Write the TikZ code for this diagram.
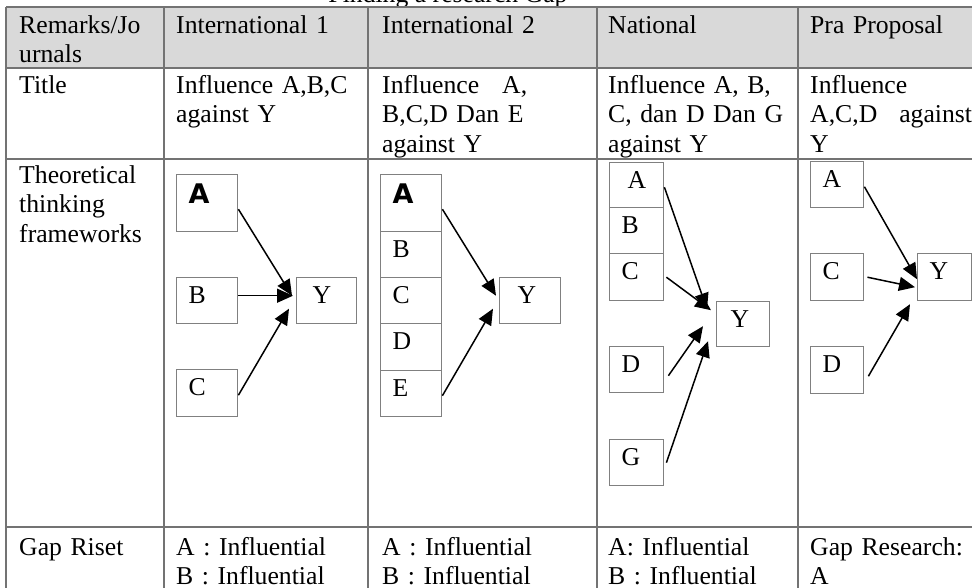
\documentclass[tikz,border=0pt]{standalone}
\usepackage{fontspec}
\setmainfont{Liberation Serif}
\setsansfont{Liberation Sans}
\newfontfamily\heavyfont{DejaVu Sans}
\usepackage{xcolor}
\usetikzlibrary{arrows.meta}
\definecolor{rulegray}{rgb}{0.45,0.45,0.45}
\definecolor{headgray}{rgb}{0.85,0.85,0.85}
\definecolor{boxgray}{rgb}{0.50,0.50,0.50}
\newcommand{\boldA}{\raisebox{-3pt}{\heavyfont\bfseries\fontsize{27}{30}\selectfont A}}

\begin{document}
\begin{tikzpicture}[x=1pt, y=-1pt, font=\fontsize{25.7}{29.5}\selectfont,
  cell/.style={anchor=base west, inner sep=0pt, align=left, text width=185pt},
  var/.style={draw=boxgray, line width=1.4pt, anchor=north west, inner xsep=12pt, inner ysep=0pt,
    text height=26pt, text depth=20pt, text width=30pt, align=left},
  wide/.style={text width=37pt},
  tall/.style={text depth=31pt},
  link/.style={line width=1.5pt, -{Triangle[length=16pt,width=14pt]}}]
\useasboundingbox (0,0) rectangle (972,587);
\clip (0,0) rectangle (972,587);
%		\draw[help lines] (0,0) grid (972,587);
\node[anchor=base, inner sep=0pt] (title) at (448,2) {Finding a research Gap};
\fill[headgray] (6,7) rectangle (990,68);
\foreach \y in {7,68,159,527} \draw[rulegray, line width=1.2pt] (6,\y) -- (990,\y);
\foreach \x in {6,164,368,597,798} \draw[rulegray, line width=1.2pt] (\x,7) -- (\x,600);
\node[cell] (h0) at (19,33) {Remarks/Jo\\urnals};
\node[cell] (h1) at (176,33) {International 1};
\node[cell] (h2) at (382,33) {International 2};
\node[cell] (h3) at (608,33) {National};
\node[cell] (h4) at (810,33) {Pra Proposal};
\node[cell] (t0) at (19,93) {Title};
\node[cell] (t1) at (176,93) {Influence A,B,C\\against Y};
\node[cell] (t2) at (382,93) {Influence\hspace*{23pt}A,\\B,C,D Dan E\\against Y};
\node[cell] (t3) at (608,93) {Influence A, B,\\C, dan D Dan G\\against Y};
\node[cell] (t4) at (810,93) {Influence\\A,C,D\hspace*{22pt}against\\Y};
\node[cell] (f0) at (19,183) {Theoretical\\thinking\\frameworks};
\node[cell] (g0) at (19,555) {Gap Riset};
\node[cell] (g1) at (176,555) {A : Influential\\B : Influential};
\node[cell] (g2) at (382,555) {A : Influential\\B : Influential};
\node[cell] (g3) at (608,555) {A: Influential\\B : Influential};
\node[cell] (g4) at (810,555) {Gap Research:\\A};
% International 1
\node[var, wide, tall] (a1) at (176,174) {\boldA};
\node[var, wide] (b1) at (176,277) {B};
\node[var, wide, text depth=21pt] (c1) at (176,369) {C};
\node[var, text width=36pt] (y1) at (296,277) {\hspace*{4pt}Y};
\draw[link] ([yshift=-6pt]a1.east) -- ([xshift=-4pt,yshift=5pt]y1.west);
\draw[link] ([yshift=5pt]b1.east) -- ([xshift=-3pt,yshift=5pt]y1.west);
\draw[link] ([yshift=-2pt]c1.east) -- ([xshift=-7pt,yshift=-8pt]y1.west);
% International 2
\node[var, wide, tall] (a2) at (380,174) {\boldA};
\node[var, wide] (b2) at (380,231) {B};
\node[var, wide] (c2) at (380,277) {C};
\node[var, wide, text depth=21pt] (d2) at (380,323) {D};
\node[var, wide] (e2) at (380,370) {E};
\node[var, wide] (y2) at (499,277) {\hspace*{6pt}Y};
\draw[link] ([yshift=-6pt]a2.east) -- ([xshift=-3pt,yshift=5pt]y2.west);
\draw[link] ([yshift=-2pt]e2.east) -- ([xshift=-6pt,yshift=-8pt]y2.west);
% National
\node[var, text depth=19pt] (a3) at (609,162) {\hspace*{6pt}A};
\node[var] (b3) at (609,207) {B};
\node[var, text depth=21pt] (c3) at (609,253) {C};
\node[var] (d3) at (609,346) {D};
\node[var] (g3) at (609,439) {G};
\node[var, text width=29pt, text depth=19pt] (y3) at (716,301) {\hspace*{2pt}Y};
\draw[link] ([yshift=-2pt]a3.east) -- ([xshift=-9pt,yshift=15pt]y3.west);
\draw[link] ([xshift=2pt]c3.east) -- ([xshift=-5pt,yshift=14pt]y3.west);
\draw[link] ([xshift=4pt,yshift=-6pt]d3.east) -- ([xshift=-13pt,yshift=-2pt]y3.west);
\draw[link] ([xshift=2pt]g3.east) -- ([xshift=-8pt,yshift=-17pt]y3.west);
% Pra Proposal
\node[var, text width=29pt] (a4) at (810,161) {A};
\node[var, text width=29pt, text depth=21pt] (c4) at (810,253) {C};
\node[var, text width=29pt, text depth=21pt] (d4) at (810,346) {D};
\node[var, text depth=21pt] (y4) at (917,253) {Y};
\draw[link] ([yshift=-2pt]a4.east) -- ([yshift=-2pt]y4.west);
\draw[link] ([xshift=3pt]c4.east) -- ([xshift=-2pt,yshift=-10pt]y4.west);
\draw[link] ([xshift=4pt,yshift=-6pt]d4.east) -- ([xshift=-7pt,yshift=-27pt]y4.west);
\end{tikzpicture}
\end{document}
